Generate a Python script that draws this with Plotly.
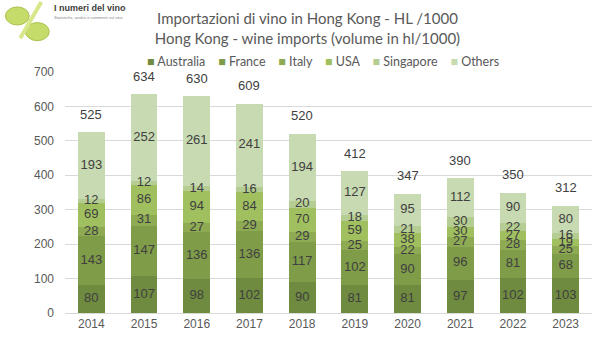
import plotly.graph_objects as go

years = ["2014", "2015", "2016", "2017", "2018", "2019", "2020", "2021", "2022", "2023"]
australia = [80, 107, 98, 102, 90, 81, 81, 97, 102, 103]
france = [143, 147, 136, 136, 117, 102, 90, 96, 81, 68]
italy = [28, 31, 27, 29, 29, 25, 22, 27, 28, 25]
usa = [69, 86, 94, 84, 70, 59, 38, 30, 27, 19]
singapore = [12, 12, 14, 16, 20, 18, 21, 30, 22, 16]
others = [193, 252, 261, 241, 194, 127, 95, 112, 90, 80]
totals = [525, 634, 630, 609, 520, 412, 347, 390, 350, 312]

series = [
    ("Australia", australia, "#6f8b3f"),
    ("France", france, "#7f9c49"),
    ("Italy", italy, "#8eab54"),
    ("USA", usa, "#a0c060"),
    ("Singapore", singapore, "#b5cd92"),
    ("Others", others, "#c8dab1"),
]

SANS = "Liberation Sans, Arial, sans-serif"
LABEL_FONT = dict(family=SANS, size=13, color="#404040")

fig = go.Figure()
base = [0] * len(years)
for name, vals, color in series:
    fig.add_trace(go.Bar(
        x=years, y=vals, name=name, marker=dict(color=color, line=dict(width=0)),
        hoverinfo="skip", showlegend=False,
    ))
    mids = [b + v / 2 for b, v in zip(base, vals)]
    fig.add_trace(go.Scatter(
        x=years, y=mids, mode="text", text=[str(v) for v in vals],
        textposition="middle center", textfont=LABEL_FONT,
        showlegend=False, hoverinfo="skip",
    ))
    base = [b + v for b, v in zip(base, vals)]

# totals floating above each stack (x given as category index)
for i, (top, tot) in enumerate(zip(base, totals)):
    fig.add_annotation(
        x=i, y=top, text=str(tot), showarrow=False, yanchor="middle",
        yshift=18, font=LABEL_FONT,
    )

# compact legend row: coloured square + series name
legend_html = "&nbsp;&nbsp;&nbsp;&nbsp;".join(
    f"<span style='color:{c}'>■</span>&nbsp;{n}" for n, _, c in series
)
fig.add_annotation(
    text=legend_html, xref="paper", yref="paper", x=0.49, y=1.045,
    xanchor="center", yanchor="middle", showarrow=False,
    font=dict(family="Lato, sans-serif", size=12.5, color="#595959"),
)

fig.update_layout(
    width=615, height=348,
    margin=dict(l=65, r=23, t=72, b=35, autoexpand=False),
    paper_bgcolor="white", plot_bgcolor="white",
    barmode="stack", bargap=0.49,
    title=dict(
        text="Importazioni di vino in Hong Kong - HL /1000<br>Hong Kong - wine imports (volume in hl/1000)",
        x=0.5, xref="container", xanchor="center", y=0.93, yref="container", yanchor="middle",
        font=dict(family="Lato, sans-serif", size=15, color="#595959"),
    ),
    xaxis=dict(
        type="category", range=[-0.5, len(years) - 0.5],
        showline=True, linecolor="#d9d9d9", linewidth=1, ticks="",
        tickfont=dict(family=SANS, size=12, color="#595959"),
    ),
    yaxis=dict(
        range=[0, 700], dtick=100, showgrid=True, gridcolor="#d9d9d9", gridwidth=1,
        zeroline=False, ticks="", ticklabelstandoff=10,
        tickfont=dict(family=SANS, size=12, color="#595959"),
    ),
    showlegend=False,
)

# small header logo
fig.add_shape(type="circle", xref="paper", yref="paper", x0=-0.113, x1=-0.068, y0=1.195, y1=1.27,
              fillcolor="#c5dc6a", line=dict(color="#a9c24a", width=1), layer="above")
fig.add_shape(type="circle", xref="paper", yref="paper", x0=-0.075, x1=-0.03, y0=1.13, y1=1.205,
              fillcolor="#c5dc6a", line=dict(color="#a9c24a", width=1), layer="above")
fig.add_shape(type="line", xref="paper", yref="paper", x0=-0.085, x1=-0.045, y0=1.14, y1=1.29,
              line=dict(color="#d7e88a", width=4), layer="above")
fig.add_annotation(text="<b>I numeri del vino</b>", xref="paper", yref="paper", x=-0.025, y=1.265,
                   xanchor="left", yanchor="middle", showarrow=False,
                   font=dict(family=SANS, size=9, color="#404040"))
fig.add_annotation(text="Statistiche, analisi e commenti sul vino", xref="paper", yref="paper",
                   x=-0.025, y=1.225, xanchor="left", yanchor="middle", showarrow=False,
                   font=dict(family=SANS, size=4, color="#888888"))

fig.write_html("out.html")
